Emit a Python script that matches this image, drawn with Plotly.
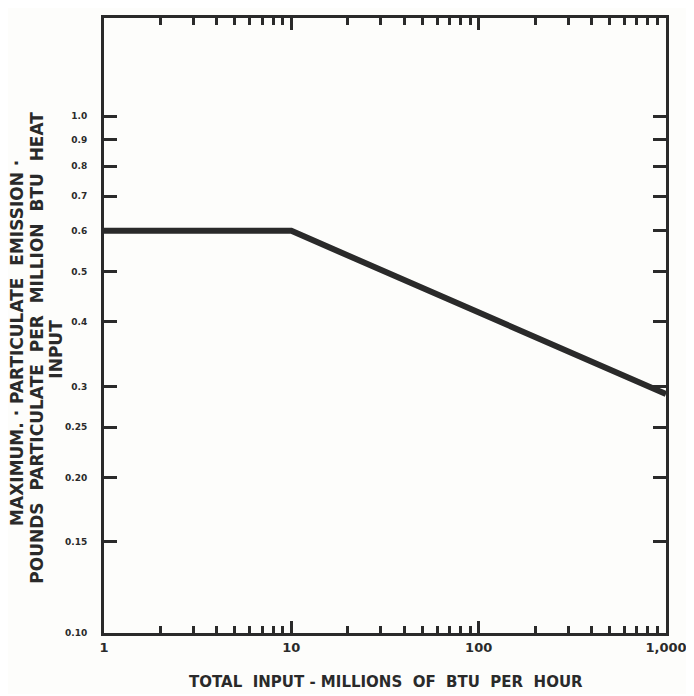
import plotly.graph_objects as go

# Data
heat_input = [1, 10, 1000]
emission = [0.6, 0.6, 0.29]

x_major = [1, 10, 100, 1000]
x_major_text = ["1", "10", "100", "1,000"]
x_minor = [2, 3, 4, 5, 6, 7, 8, 9, 20, 30, 40, 50, 60, 70, 80, 90,
           200, 300, 400, 500, 600, 700, 800, 900]
y_ticks = [0.10, 0.15, 0.20, 0.25, 0.3, 0.4, 0.5, 0.6, 0.7, 0.8, 0.9, 1.0]
y_text = ["0.10", "0.15", "0.20", "0.25", "0.3", "0.4", "0.5", "0.6",
          "0.7", "0.8", "0.9", "1.0"]

ink = "#2a2a2a"
font_fam = "DejaVu Sans"

W, H = 686, 686
L, R, T, B = 96, 25, 7, 61
OFF = 7  # page offset of the figure
PW, PH = W - L - R, H - T - B


def px_x(page_x):
    return (page_x - OFF - L) / PW


def px_y(page_y):
    return 1 - (page_y - OFF - T) / PH


fig = go.Figure()
fig.add_trace(go.Scatter(x=heat_input, y=emission, mode="lines",
                         line=dict(color=ink, width=6), showlegend=False))

fig.update_layout(
    width=W, height=H,
    margin=dict(l=L, r=R, t=T, b=B),
    paper_bgcolor="#fdfdfb", plot_bgcolor="#fdfdfb",
    font=dict(family=font_fam, color=ink),
    xaxis=dict(
        type="log", range=[0, 3], showgrid=False, zeroline=False,
        showline=True, linecolor=ink, linewidth=3, mirror="ticks",
        ticks="inside", ticklen=12, tickwidth=3, tickcolor=ink,
        tickvals=x_major, ticktext=x_major_text, ticklabelstandoff=0,
        ticklabeloverflow="allow",
        tickfont=dict(size=13, family=font_fam, color=ink, weight="bold"),
        minor=dict(tickvals=x_minor, ticks="inside", ticklen=7,
                   tickwidth=3, tickcolor=ink, showgrid=False),
    ),
    yaxis=dict(
        type="log", range=[-1, 0.19], showgrid=False, zeroline=False,
        showline=True, linecolor=ink, linewidth=3, mirror="ticks",
        ticks="inside", ticklen=13, tickwidth=3, tickcolor=ink,
        tickvals=y_ticks, ticktext=y_text, ticklabelstandoff=12,
        tickfont=dict(size=9, family=font_fam, color=ink, weight="bold"),
    ),
)

fig.add_annotation(
    text="<b>TOTAL  INPUT - MILLIONS  OF  BTU  PER  HOUR</b>",
    xref="paper", yref="paper", x=px_x(387), y=px_y(681), showarrow=False,
    xanchor="center", yanchor="middle",
    font=dict(size=15, family=font_fam, color=ink))

ytitle_lines = [
    ("MAXIMUM. · PARTICULATE  EMISSION ·", 16, 340),
    ("POUNDS  PARTICULATE  PER  MILLION  BTU  HEAT", 36, 345),
    ("INPUT", 55, 347),
]
for txt, xp, yp in ytitle_lines:
    fig.add_annotation(
        text="<b>" + txt + "</b>",
        xref="paper", yref="paper", x=px_x(xp), y=px_y(yp), showarrow=False,
        textangle=-90, xanchor="center", yanchor="middle",
        font=dict(size=17, family=font_fam, color=ink))

fig.write_html("out.html")
